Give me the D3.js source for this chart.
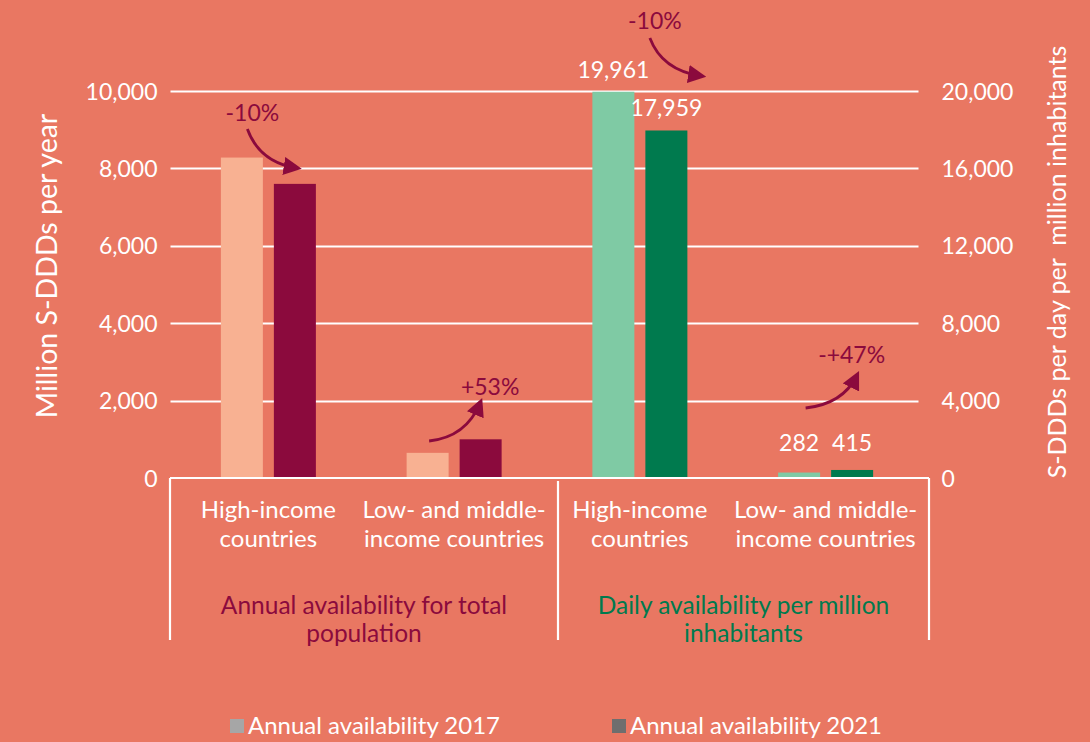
<!DOCTYPE html>
<html>
<head>
<meta charset="utf-8">
<script src="https://cdn.jsdelivr.net/npm/d3@7"></script>
<style>
html,body{margin:0;padding:0;background:#e97762;}
svg{display:block;font-family:Lato, "Open Sans", sans-serif;}
</style>
</head>
<body>
<svg id="chart" width="1090" height="742"></svg>
<script>
// ---- data ----
const categories = ["High-income countries", "Low- and middle-income countries"];
const categoryLines = [["High-income", "countries"], ["Low- and middle-", "income countries"]];
const groups = ["Annual availability for total population", "Daily availability per million inhabitants"];
const groupLines = [["Annual availability for total", "population"], ["Daily availability per million", "inhabitants"]];
const annual2017 = [8280, 650];      // million S-DDDs per year (left axis)
const annual2021 = [7600, 1000];
const daily2017 = [19961, 282];      // S-DDDs per day per million inhabitants (right axis)
const daily2021 = [17959, 415];
const leftTicks = [0, 2000, 4000, 6000, 8000, 10000];
const rightTicks = [0, 4000, 8000, 12000, 16000, 20000];
const changeLabels = ["-10%", "+53%", "-10%", "-+47%"];
const legendLabels = ["Annual availability 2017", "Annual availability 2021"];

// ---- layout ----
const W = 1090, H = 742;
const plot = {left: 175.5, right: 918.5, top: 91, bottom: 478};
const BG = "#e97762";
const colors = {
  a17: "#f8b192", a21: "#8b0a3d", d17: "#7fcaa4", d21: "#007a4e",
  maroon: "#8b0a3d", green: "#007a4e", legend17: "#a6a6a6", legend21: "#6e6e6e"
};
const FS = 23, FS2 = 24;

const svg = d3.select("#chart");
svg.append("rect").attr("width", W).attr("height", H).attr("fill", BG);

const slots = [];
groups.forEach((g, gi) => categories.forEach((c, ci) => slots.push(gi + "|" + ci)));

const x = d3.scaleBand().domain(slots).range([plot.left, plot.right]);
const sub = d3.scaleBand().domain(["2017", "2021"]).range([0, 95]).paddingInner(0.2075);
const yL = d3.scaleLinear().domain([0, 10000]).range([plot.bottom, plot.top]);
const yR = d3.scaleLinear().domain([0, 20000]).range([plot.bottom, plot.top]);

// gridlines
svg.append("g").selectAll("line").data(leftTicks.slice(1)).join("line")
  .attr("x1", plot.left - 5).attr("x2", plot.right)
  .attr("y1", d => Math.round(yL(d)) + 0.5).attr("y2", d => Math.round(yL(d)) + 0.5)
  .attr("stroke", "#fff").attr("stroke-width", 2.2);

// axis labels
const fmt = d3.format(",");
const axL = d3.axisLeft(yL).tickValues(leftTicks).tickFormat(fmt).tickSize(0).tickPadding(0);
svg.append("g").attr("transform", `translate(${plot.left - 18},0)`).call(axL)
  .call(g => g.select(".domain").remove())
  .selectAll("text").attr("fill", "#fff").attr("font-size", FS).attr("font-family", "Lato").attr("dy", "0.35em");

const axR = d3.axisRight(yR).tickValues(rightTicks).tickFormat(fmt).tickSize(0).tickPadding(0);
svg.append("g").attr("transform", `translate(${plot.right + 23},0)`).call(axR)
  .call(g => g.select(".domain").remove())
  .selectAll("text").attr("fill", "#fff").attr("font-size", FS).attr("font-family", "Lato").attr("dy", "0.35em");

// bars
const barData = [];
categories.forEach((c, ci) => {
  barData.push({slot: "0|" + ci, k: "2017", v: annual2017[ci], y: yL, col: colors.a17});
  barData.push({slot: "0|" + ci, k: "2021", v: annual2021[ci], y: yL, col: colors.a21});
});
categories.forEach((c, ci) => {
  barData.push({slot: "1|" + ci, k: "2017", v: daily2017[ci], y: yR, col: colors.d17, label: true});
  barData.push({slot: "1|" + ci, k: "2021", v: daily2021[ci], y: yR, col: colors.d21, label: true});
});
const bx = d => x(d.slot) + (x.bandwidth() - 95) / 2 + sub(d.k);
svg.append("g").selectAll("rect").data(barData).join("rect")
  .attr("x", bx).attr("width", sub.bandwidth())
  .attr("y", d => d.y(d.v)).attr("height", d => plot.bottom - d.y(d.v))
  .attr("fill", d => d.col);

// data labels (daily)
svg.append("g").selectAll("text").data(barData.filter(d => d.label)).join("text")
  .attr("x", d => bx(d) + sub.bandwidth() / 2)
  .attr("y", d => Math.min(d.y(d.v) - 14, 451))
  .attr("text-anchor", "middle").attr("fill", "#fff").attr("font-size", FS)
  .text(d => fmt(d.v));

// category axis lines
const axisY = plot.bottom;
const gLeft = plot.left - 5.5, gMid = 558, gRight = plot.right + 10.5;
const axisG = svg.append("g").attr("stroke", "#fff").attr("stroke-width", 2.2).attr("fill", "none");
axisG.append("line").attr("x1", gLeft).attr("x2", gRight).attr("y1", axisY).attr("y2", axisY);
[gLeft, gMid, gRight].forEach((xx, i) => {
  axisG.append("line").attr("x1", xx).attr("x2", xx).attr("y1", i === 1 ? axisY + 3 : axisY).attr("y2", 640);
});

// category labels
slots.forEach(s => {
  const ci = +s.split("|")[1];
  const cx = x(s) + x.bandwidth() / 2;
  categoryLines[ci].forEach((ln, li) => {
    svg.append("text").attr("x", cx).attr("y", 518 + li * 29)
      .attr("text-anchor", "middle").attr("fill", "#fff").attr("font-size", FS2).text(ln);
  });
});

// group labels
const groupCenters = [(gLeft + gMid) / 2, (gMid + gRight) / 2];
groupLines.forEach((lines, gi) => {
  lines.forEach((ln, li) => {
    svg.append("text").attr("x", groupCenters[gi]).attr("y", 614 + li * 28)
      .attr("text-anchor", "middle").attr("fill", gi === 0 ? colors.maroon : colors.green)
      .attr("font-size", 24.5).text(ln);
  });
});

// axis titles
svg.append("text").attr("transform", `translate(57,266) rotate(-90)`)
  .attr("text-anchor", "middle").attr("fill", "#fff").attr("font-size", 28.5)
  .text("Million S-DDDs per year");
svg.append("text").attr("transform", `translate(1066,262) rotate(-90)`)
  .attr("text-anchor", "middle").attr("fill", "#fff").attr("font-size", 25)
  .attr("xml:space", "preserve").style("white-space", "pre")
  .text("S-DDDs per day per  million inhabitants");

// change annotations (curved arrows)
const defs = svg.append("defs");
defs.append("marker").attr("id", "ah").attr("viewBox", "0 0 10 10").attr("refX", 7).attr("refY", 5)
  .attr("markerWidth", 6.5).attr("markerHeight", 6.5).attr("markerUnits", "strokeWidth").attr("orient", "auto")
  .append("path").attr("d", "M0,0 L10,5 L0,10 Z").attr("fill", colors.maroon);

const cxOf = (gi, ci) => x(gi + "|" + ci) + x.bandwidth() / 2;
const annos = [
  {t: changeLabels[0], tx: cxOf(0, 0) - 16, ty: 121, s: [cxOf(0, 0) - 21, 129], e: [cxOf(0, 0) + 28, 168], down: true},
  {t: changeLabels[1], tx: cxOf(0, 1) + 36, ty: 395, s: [cxOf(0, 1) - 25, 441], e: [cxOf(0, 1) + 26, 403], down: false},
  {t: changeLabels[2], tx: cxOf(1, 0) + 15, ty: 29, s: [cxOf(1, 0) + 10, 38], e: [cxOf(1, 0) + 61, 76], down: true},
  {t: changeLabels[3], tx: cxOf(1, 1) + 26, ty: 363, s: [cxOf(1, 1) - 20, 408], e: [cxOf(1, 1) + 31, 376], down: false}
];
annos.forEach(a => {
  const [sx, sy] = a.s, [ex, ey] = a.e;
  const c = a.down ? [sx + 12, ey - 6] : [ex - 14, sy - 4];
  svg.append("path").attr("d", `M${sx},${sy} Q${c[0]},${c[1]} ${ex},${ey}`)
    .attr("fill", "none").attr("stroke", colors.maroon).attr("stroke-width", 2.8)
    .attr("marker-end", "url(#ah)");
  svg.append("text").attr("x", a.tx).attr("y", a.ty).attr("text-anchor", "middle")
    .attr("fill", colors.maroon).attr("font-size", FS).text(a.t);
});

// legend
const legX = [230, 612];
legendLabels.forEach((l, i) => {
  svg.append("rect").attr("x", legX[i]).attr("y", 719).attr("width", 14).attr("height", 14)
    .attr("fill", i === 0 ? colors.legend17 : colors.legend21);
  svg.append("text").attr("x", legX[i] + 18).attr("y", 734).attr("fill", "#fff")
    .attr("font-size", FS2).text(l);
});
</script>
</body>
</html>
